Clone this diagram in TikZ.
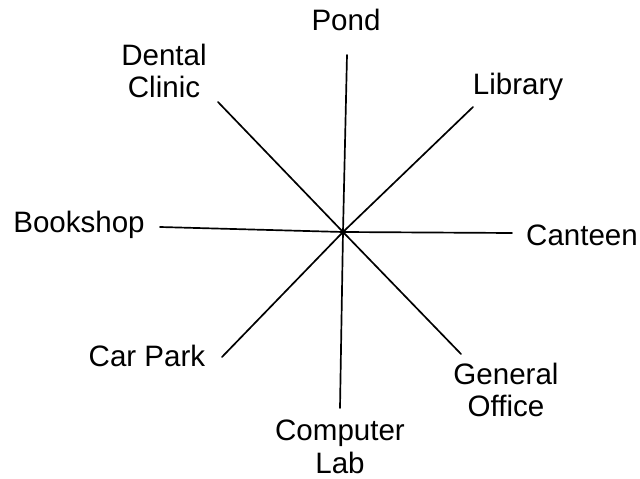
\documentclass[tikz,border=0pt]{standalone}
\usepackage{fontspec}
\setmainfont{Liberation Sans}
\usetikzlibrary{arrows.meta}

\begin{document}
\begin{tikzpicture}[x=0.025cm, y=-0.025cm,
    place/.style={inner sep=0pt, align=center, font=\fontsize{21}{23}\selectfont},
    spoke/.style={line width=1.2pt, line cap=round}]
    \useasboundingbox (0,0) rectangle (640,479);
    % 中心与端点
    \coordinate (O) at (343,232);
    \coordinate (eN) at (347,55);
    \coordinate (eNE) at (473,107);
    \coordinate (eE) at (512,233);
    \coordinate (eSE) at (461,354);
    \coordinate (eS) at (340,408);
    \coordinate (eSW) at (222,357);
    \coordinate (eW) at (160,227);
    \coordinate (eNW) at (218,102);
    % 地点
    \node[place] (pond) at (346,20) {Pond};
    \node[place] (library) at (518,87) {Library};
    \node[place] (canteen) at (582,235) {Canteen};
    \node[place] (office) at (506,390) {General\\Office};
    \node[place] (lab) at (340,447) {Computer\\Lab};
    \node[place] (carpark) at (147,356) {Car Park};
    \node[place] (bookshop) at (79,225) {Bookshop};
    \node[place] (clinic) at (164,71) {Dental\\Clinic};
    % 线
    \draw[spoke] (O) -- (eN);
    \draw[spoke] (O) -- (eNE);
    \draw[spoke] (O) -- (eE);
    \draw[spoke] (O) -- (eSE);
    \draw[spoke] (O) -- (eS);
    \draw[spoke] (O) -- (eSW);
    \draw[spoke] (O) -- (eW);
    \draw[spoke] (O) -- (eNW);
\end{tikzpicture}
\end{document}
